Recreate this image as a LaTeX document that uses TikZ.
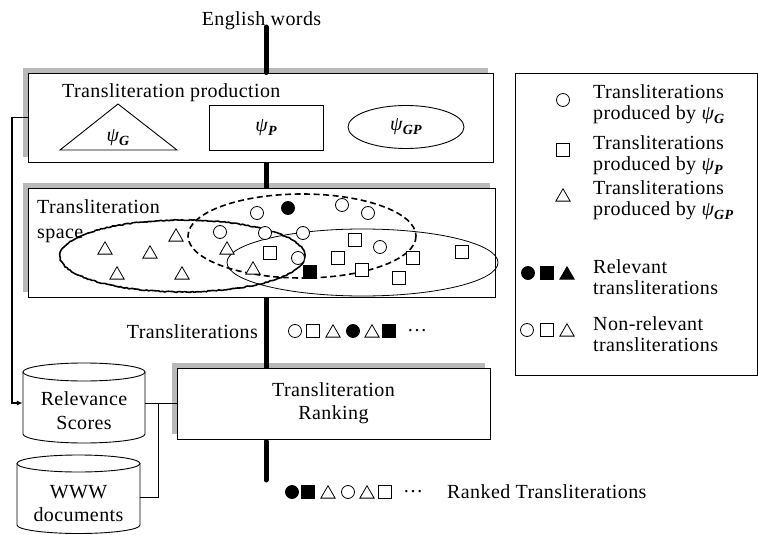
\documentclass[tikz,border=0pt]{standalone}
\usepackage{fontspec}
\setmainfont[LetterSpace=2]{Liberation Serif}
\usetikzlibrary{shapes.geometric,shadows,arrows.meta,decorations.pathmorphing}

\newcommand\psix[1]{\textit{ψ}\kern-0.5pt\raisebox{-4pt}{\fontsize{14}{14}\selectfont\bfseries\itshape #1}}

\begin{document}
\begin{tikzpicture}[x=1pt,y=-1pt,
  every node/.style={inner sep=0pt, font=\fontsize{20}{22}\selectfont},
  box/.style={draw, fill=white, line width=0.9pt},
  shadowed/.style={general shadow={fill=gray!55, shadow xshift=-5pt, shadow yshift=5pt}},
  spineline/.style={line width=5pt, line cap=round},
  conn/.style={line width=0.9pt},
  feed/.style={line width=1.5pt, -{Latex[length=6pt,width=5pt]}},
  cyl/.style={line width=0.9pt},
  mk/.style={line width=0.8pt, draw},
  oc/.style={mk, circle, minimum size=13pt, fill=white},
  fc/.style={mk, circle, minimum size=13pt, fill=black},
  os/.style={mk, rectangle, minimum size=12.5pt, fill=white},
  fs/.style={mk, rectangle, minimum size=12.5pt, fill=black},
  ot/.style={mk, regular polygon, regular polygon sides=3, minimum size=16.5pt, fill=white, yshift=-2pt},
  ft/.style={mk, regular polygon, regular polygon sides=3, minimum size=16.5pt, fill=black, yshift=-2pt},
  roughline/.style={line width=1.6pt, decorate, decoration={random steps, segment length=2pt, amplitude=0.5pt}},
  dashline/.style={line width=1.6pt, dash pattern=on 6pt off 3.5pt},
]
\useasboundingbox (0,0) rectangle (758,535);

% spine coordinates
\coordinate (spine) at (266,0);
\coordinate (ewtop) at (266,27);
\coordinate (spineend) at (266,480);

% title
\node (ew) at (261.5,21) {English words};

% production box
\node[box, shadowed, minimum width=465pt, minimum height=89pt] (prod) at (260.5,117.5) {};
\node[anchor=west] (tp) at (62,93) {Transliteration production};
\coordinate (tg1) at (60,150);
\coordinate (tg2) at (177,150);
\coordinate (tg3) at (118,104);
\draw[line width=0.9pt] (tg1) -- (tg2) -- (tg3) -- cycle;
\node (psig) at (118,138) {\psix{G}};
\node[draw, line width=0.9pt, minimum width=114pt, minimum height=45pt] (psip) at (266,127.5) {\psix{P}};
\node[draw, ellipse, line width=0.9pt, minimum width=116pt, minimum height=43pt] (psigp) at (406,127) {\psix{GP}};

% transliteration space box
\node[box, shadowed, minimum width=467pt, minimum height=109pt] (space) at (261.5,242.5) {};
\node[anchor=north west, align=left, font=\fontsize{20}{25}\selectfont] (spt) at (37,199) {Transliteration\\space};
\draw[roughline] (182.5,256) ellipse [x radius=122.5, y radius=36];
\draw[dashline] (302,236) ellipse [x radius=114, y radius=42];
\draw[line width=0.8pt] (362.5,262.5) ellipse [x radius=135.5, y radius=33.5];
\foreach \x/\y [count=\i] in {257/213,342/205,368/213,220/232,265/233,303/233,380/247,298/258}
  \node[oc] (sc\i) at (\x,\y) {};
\node[fc] (sfc) at (288,208) {};
\foreach \x/\y [count=\i] in {176/235,105/248,150/252,227/248,117/273,182/273,253/268}
  \node[ot] (st\i) at (\x,\y) {};
\foreach \x/\y [count=\i] in {355/240,270/253,338/258,413/258,462/252,362/270,399/278}
  \node[os] (ss\i) at (\x,\y) {};
\node[fs] (sfs) at (310,272) {};

% legend
\node[draw, line width=0.9pt, minimum width=242pt, minimum height=302pt] (leg) at (636,224) {};
\node[oc] (lc) at (563,100) {};
\node[anchor=west, align=left, font=\fontsize{20}{21.5}\selectfont] (l1) at (593,104) {Transliterations\\produced by \psix{G}};
\node[os] (ls) at (563,150) {};
\node[anchor=west, align=left, font=\fontsize{20}{21.5}\selectfont] (l2) at (593,155) {Transliterations\\produced by \psix{P}};
\node[ot] (lt) at (563,195) {};
\node[anchor=west, align=left, font=\fontsize{20}{21.5}\selectfont] (l3) at (593,200) {Transliterations\\produced by \psix{GP}};
\node[fc] (lfc) at (528,273) {};
\node[fs] (lfs) at (547,273) {};
\node[ft] (lft) at (567,273) {};
\node[anchor=west, align=left, font=\fontsize{20}{21.5}\selectfont] (l4) at (593,277) {Relevant\\transliterations};
\node[oc] (loc) at (527,330) {};
\node[os] (los) at (547,330) {};
\node[ot] (lot) at (567,330) {};
\node[anchor=west, align=left, font=\fontsize{20}{21.5}\selectfont] (l5) at (593,334) {Non-relevant\\transliterations};

% transliterations row
\node[anchor=east] (tl) at (258,332) {Transliterations};
\node[oc] (r1) at (295,331) {};
\node[os] (r2) at (313,331) {};
\node[ot] (r3) at (333,331) {};
\node[fc] (r4) at (353,331) {};
\node[ot] (r5) at (372,331) {};
\node[fs] (r6) at (389,331) {};
\node (r7) at (417,331) {…};

% ranking box
\node[box, shadowed, minimum width=313pt, minimum height=71pt, align=center, font=\fontsize{20}{23}\selectfont] (rank) at (333.5,403.5) {Transliteration\\Ranking};

% ranked row
\node[fc] (k1) at (292,492) {};
\node[fs] (k2) at (308,492) {};
\node[ot] (k3) at (328,492) {};
\node[oc] (k4) at (348,492) {};
\node[ot] (k5) at (367,492) {};
\node[os] (k6) at (385,492) {};
\node (k7) at (413,492) {…};
\node[anchor=west] (rt) at (447,492) {Ranked Transliterations};

% cylinders
\node[minimum width=122pt, minimum height=80pt] (rel) at (84,403) {};
\draw[cyl] (84,372) ellipse [x radius=61, y radius=9];
\draw[cyl] (23,372) -- (23,434) arc [start angle=180, end angle=0, x radius=61, y radius=9] -- (145,372);
\node[align=center, font=\fontsize{20}{24}\selectfont] (relt) at (84,411) {Relevance\\Scores};

\node[minimum width=123pt, minimum height=72pt] (www) at (78.5,497) {};
\draw[cyl] (78.5,463.5) ellipse [x radius=61.5, y radius=8.5];
\draw[cyl] (17,463.5) -- (17,525) arc [start angle=180, end angle=0, x radius=61.5, y radius=8.5] -- (140,463.5);
\node[align=center, font=\fontsize{20}{23}\selectfont] (wwwt) at (78.5,504) {WWW\\documents};

% spine
\draw[spineline] (ewtop) -- (spine |- prod.north);
\draw[spineline, line cap=butt] (spine |- prod.south) -- (spine |- space.north);
\draw[spineline, line cap=butt] (spine |- space.south) -- (spine |- rank.north);
\draw[spineline] ([yshift=-2pt]spine |- rank.south) -- (spineend);

% connectors
\coordinate (lx) at (12,0);
\coordinate (jn) at (158,0);
\draw[feed] (prod.west) -| (lx |- rel.west) -- (rel.west);
\draw[conn] (rel.east) -- (rank.west |- rel.east);
\draw[conn] (jn |- rel.east) |- (www.east);
\end{tikzpicture}
\end{document}
